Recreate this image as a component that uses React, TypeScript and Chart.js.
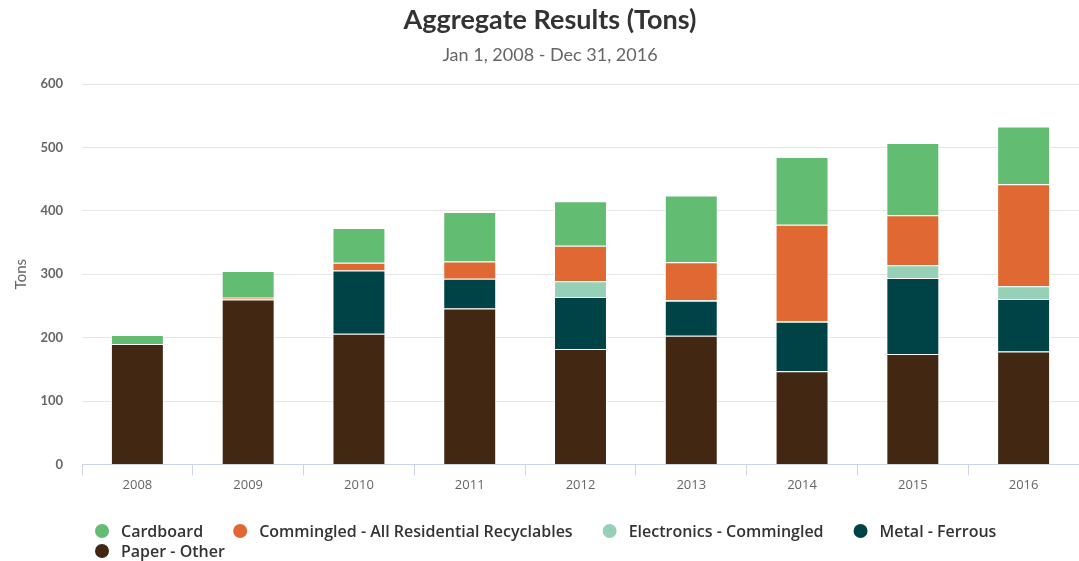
import React, { useEffect, useRef } from "react";
import { Chart, registerables } from "chart.js";

Chart.register(...registerables);

const categories = ["2008", "2009", "2010", "2011", "2012", "2013", "2014", "2015", "2016"];

// stacked bottom-to-top
const paperOther = [190, 260, 206, 246, 182, 203, 147, 174, 178];
const metalFerrous = [0, 0, 100, 47, 82, 55, 78, 120, 83];
const electronics = [0, 0, 0, 0, 25, 1, 1, 20, 20];
const commingled = [0, 3, 12, 27, 56, 60, 152, 79, 161];
const cardboard = [14, 42, 55, 78, 70, 105, 107, 114, 91];

const yTicks = [0, 100, 200, 300, 400, 500, 600];

const FONT = "Lato, 'Open Sans', sans-serif";
const WIDE = "'Open Sans', Lato, sans-serif";

const legendPlugin = {
  id: "customLegend",
  afterDraw(chart: any) {
    const ctx = chart.ctx;
    const items = chart.data.datasets.map((d: any) => ({ label: d.label, color: d.backgroundColor })).reverse();
    ctx.save();
    ctx.font = `600 16px ${WIDE}`;
    ctx.textBaseline = "middle";
    const startX = 95;
    const r = 7;
    const textGap = 12;
    const itemGap = 30;
    const rowH = 20;
    let x = startX;
    let y = chart.height - 30;
    const limit = chart.width - 20;
    items.forEach((it: any, i: number) => {
      const tw = ctx.measureText(it.label).width;
      const w = r * 2 + textGap + tw;
      if (i > 0 && x + w > limit) {
        x = startX;
        y += rowH;
      }
      ctx.fillStyle = it.color;
      ctx.beginPath();
      ctx.arc(x + r, y, r, 0, Math.PI * 2);
      ctx.fill();
      ctx.fillStyle = "#333333";
      ctx.fillText(it.label, x + r * 2 + textGap, y + 1);
      x += w + itemGap;
    });
    ctx.restore();
  },
};

export default function App() {
  const ref = useRef<HTMLCanvasElement | null>(null);
  useEffect(() => {
    document.body.style.margin = "0";
    if (!ref.current) return;
    const mk = (label: string, data: number[], color: string) => ({
      label,
      data,
      backgroundColor: color,
      borderColor: "#ffffff",
      borderWidth: 1,
      categoryPercentage: 1,
      barPercentage: 0.478,
    });
    const chart = new Chart(ref.current, {
      type: "bar",
      data: {
        labels: categories,
        datasets: [
          mk("Paper - Other", paperOther, "#422713"),
          mk("Metal - Ferrous", metalFerrous, "#004346"),
          mk("Electronics - Commingled", electronics, "#96d0b7"),
          mk("Commingled - All Residential Recyclables", commingled, "#e06832"),
          mk("Cardboard", cardboard, "#62bd72"),
        ],
      },
      options: {
        animation: false,
        responsive: false,
        maintainAspectRatio: false,
        layout: { padding: { left: 10, right: -11, top: 0, bottom: 66 } },
        plugins: {
          legend: { display: false },
          tooltip: { enabled: false },
          title: {
            display: true,
            text: "Aggregate Results (Tons)",
            color: "#333333",
            font: { family: FONT, size: 27, weight: "bold" },
            padding: { top: 4, bottom: 8 },
          },
          subtitle: {
            display: true,
            text: "Jan 1, 2008 - Dec 31, 2016",
            color: "#666666",
            font: { family: FONT, size: 18 },
            padding: { top: 0, bottom: 18 },
          },
        },
        scales: {
          x: {
            stacked: true,
            grid: {
              display: true,
              drawOnChartArea: false,
              drawTicks: true,
              tickLength: 11,
              color: "#ccd6eb",
              offset: true,
            },
            border: { display: true, color: "#ccd6eb" },
            ticks: { color: "#666666", font: { family: WIDE, size: 13 }, padding: 2 },
          },
          y: {
            stacked: true,
            min: 0,
            max: 600,
            afterBuildTicks: (scale: any) => {
              scale.ticks = yTicks.map((v) => ({ value: v }));
            },
            afterFit: (scale: any) => {
              scale.width = 72;
            },
            grid: { color: "#e6e6e6", drawTicks: false },
            border: { display: false },
            ticks: { color: "#666666", font: { family: FONT, size: 13, weight: "bold" }, padding: 19 },
            title: {
              display: true,
              text: "Tons",
              color: "#666666",
              font: { family: FONT, size: 15 },
              padding: { top: 2, bottom: 0 },
            },
          },
        },
      },
      plugins: [legendPlugin],
    });
    return () => chart.destroy();
  }, []);
  return (
    <div style={{ width: 1079, height: 561 }}>
      <canvas ref={ref} width={1079} height={561} style={{ width: 1079, height: 561, display: "block" }} />
    </div>
  );
}
